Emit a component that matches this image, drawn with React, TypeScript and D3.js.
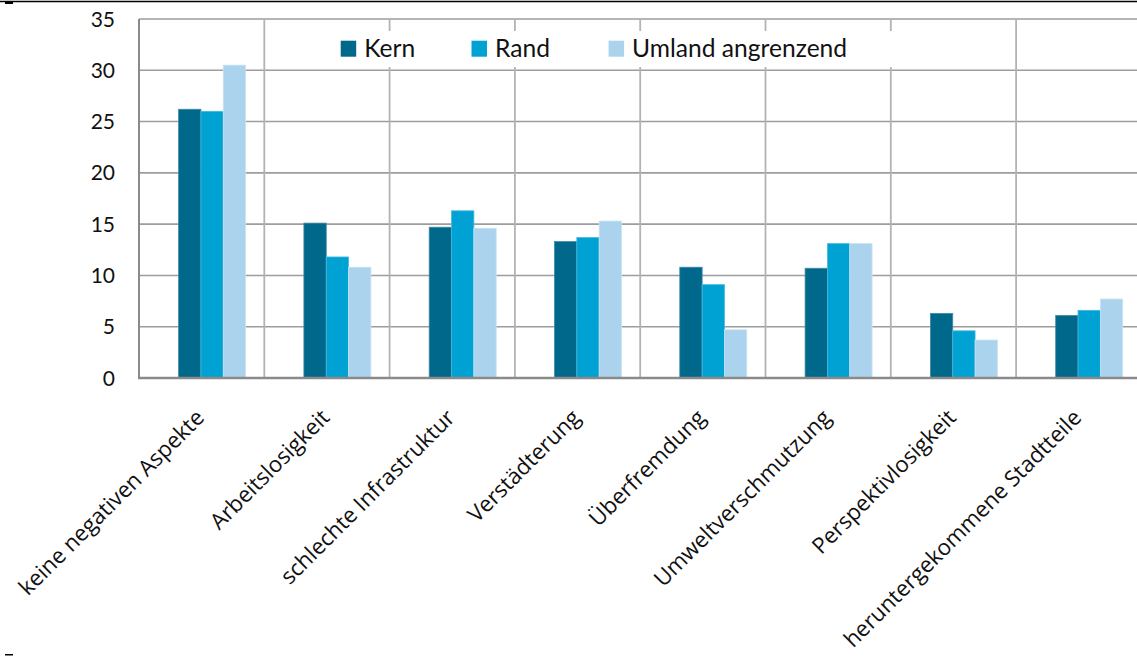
import React from "react";
import * as d3 from "d3";

const categories = [
  "keine negativen Aspekte",
  "Arbeitslosigkeit",
  "schlechte Infrastruktur",
  "Verstädterung",
  "Überfremdung",
  "Umweltverschmutzung",
  "Perspektivlosigkeit",
  "heruntergekommene Stadtteile",
];
const seriesNames = ["Kern", "Rand", "Umland angrenzend"];
const kern = [26.2, 15.1, 14.7, 13.3, 10.8, 10.7, 6.3, 6.1];
const rand = [26.0, 11.8, 16.3, 13.7, 9.1, 13.1, 4.6, 6.6];
const umland = [30.5, 10.8, 14.6, 15.3, 4.7, 13.1, 3.7, 7.7];
const yTicks = [0, 5, 10, 15, 20, 25, 30, 35];
const colors = ["#00688b", "#00a1d3", "#abd3ed"];
const strokes = ["#3f8aa6", "#4ab8e0", "#c8e3f4"];

const W = 1137;
const H = 657;
const left = 139;
const top = 19;
const bottom = 378;
const bandW = 125.3;

export default function App() {
  const series = [kern, rand, umland];
  const x = d3
    .scaleBand<string>()
    .domain(categories)
    .range([left, left + bandW * categories.length])
    .padding(0);
  const inner = d3
    .scaleBand<number>()
    .domain([0, 1, 2])
    .range([39.6, 39.6 + 67])
    .padding(0);
  const y = d3.scaleLinear().domain([0, 35]).range([bottom, top]);
  const font = "Lato, 'Open Sans', sans-serif";
  const labelFont = "'Open Sans', Lato, sans-serif";
  const legendX = [340.7, 471.5, 608.6];

  return (
    <svg
      width={W}
      height={H}
      viewBox={`0 0 ${W} ${H}`}
      style={{ position: "absolute", left: 0, top: 0, background: "#fff" }}
    >
      <rect x={0} y={0} width={W} height={H} fill="#fff" />
      {/* top rule */}
      <line x1={0} x2={W} y1={1.5} y2={1.5} stroke="#000" strokeWidth={1.5} />
      <rect x={5} y={2} width={8} height={2} fill="#000" />
      <rect x={5} y={654} width={8} height={1.5} fill="#000" />

      {/* horizontal gridlines */}
      {yTicks.slice(1).map((t) => (
        <line
          key={"h" + t}
          x1={left}
          x2={W}
          y1={y(t)}
          y2={y(t)}
          stroke="#9d9d9d"
          strokeWidth={1.6}
        />
      ))}
      {/* vertical gridlines */}
      {categories.slice(1).map((c) => (
        <line
          key={"v" + c}
          x1={x(c)!}
          x2={x(c)!}
          y1={top}
          y2={bottom}
          stroke="#b3b3b3"
          strokeWidth={1.8}
        />
      ))}

      {/* legend background */}
      <rect x={325} y={31} width={575} height={36} fill="#fff" />
      {seriesNames.map((s, i) => (
        <g key={s}>
          <rect x={legendX[i]} y={40.7} width={15.5} height={16} fill={colors[i]} />
          <text
            x={legendX[i] + 23.5}
            y={57}
            fontFamily={font}
            fontSize={24.6}
            fill="#111"
          >
            {s}
          </text>
        </g>
      ))}

      {/* bars */}
      {categories.map((c, ci) =>
        series.map((vals, si) => {
          const bx = x(c)! + inner(si)!;
          const by = y(vals[ci]);
          return (
            <rect
              key={c + si}
              x={bx}
              y={by}
              width={inner.bandwidth()}
              height={bottom - by}
              fill={colors[si]}
              stroke={strokes[si]}
              strokeWidth={0.8}
            />
          );
        })
      )}

      {/* axes */}
      <line x1={left} x2={left} y1={top} y2={bottom + 1} stroke="#8a8a8a" strokeWidth={2} />
      <line x1={left - 1} x2={W} y1={bottom} y2={bottom} stroke="#8a8a8a" strokeWidth={2.5} />

      {/* y tick labels */}
      {yTicks.map((t) => (
        <text
          key={"t" + t}
          x={115}
          y={y(t) + 7.5}
          textAnchor="end"
          fontFamily={font}
          fontSize={21}
          fill="#111"
        >
          {t}
        </text>
      ))}

      {/* category labels */}
      {categories.map((c) => {
        const cx = x(c)! + x.bandwidth() / 2 + 4;
        return (
          <text
            key={"c" + c}
            transform={`translate(${cx},${419}) rotate(-45)`}
            textAnchor="end"
            fontFamily={labelFont}
            fontSize={22.2}
            fill="#111"
          >
            {c}
          </text>
        );
      })}
    </svg>
  );
}
